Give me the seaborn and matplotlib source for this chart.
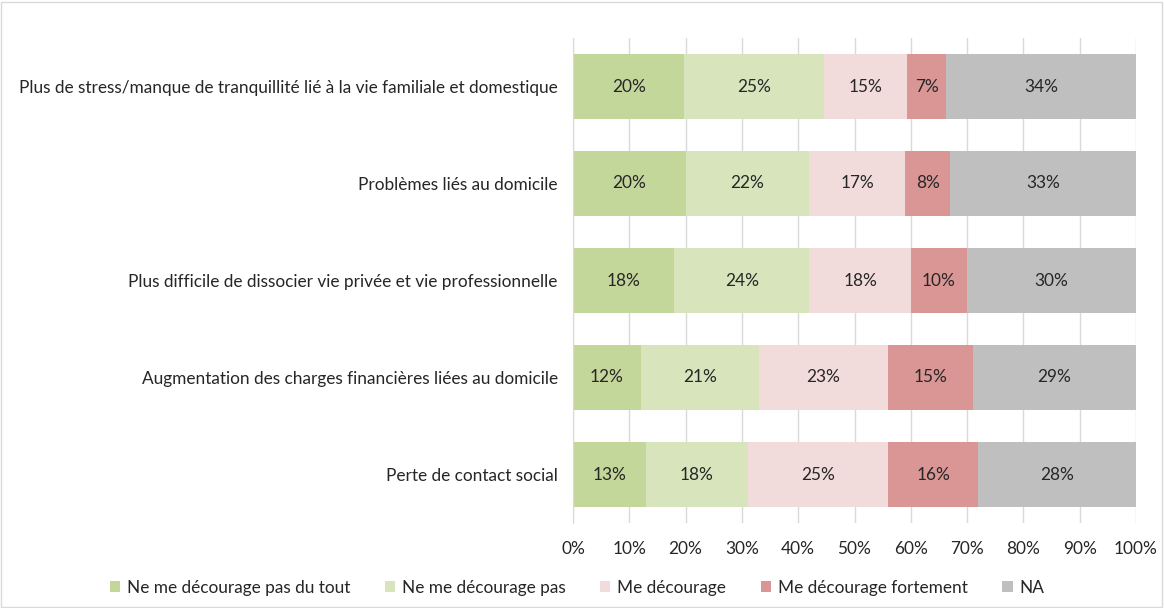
import matplotlib
matplotlib.use("Agg")
import matplotlib.pyplot as plt
import seaborn as sns
import numpy as np
import pandas as pd
from matplotlib.patches import Rectangle, Patch

categories = [
    "Plus de stress/manque de tranquillité lié à la vie familiale et domestique",
    "Problèmes liés au domicile",
    "Plus difficile de dissocier vie privée et vie professionnelle",
    "Augmentation des charges financières liées au domicile",
    "Perte de contact social",
]
series = ["Ne me décourage pas du tout", "Ne me décourage pas", "Me décourage",
          "Me décourage fortement", "NA"]
pas_du_tout = [20, 20, 18, 12, 13]
pas = [25, 22, 24, 21, 18]
decourage = [15, 17, 18, 23, 25]
fortement = [7, 8, 10, 15, 16]
na = [34, 33, 30, 29, 28]
colors = ["#C4D79B", "#D8E4BC", "#F2DCDB", "#DA9694", "#BFBFBF"]
xticks = [0, 10, 20, 30, 40, 50, 60, 70, 80, 90, 100]

sns.set_style("white")
plt.rcParams["font.family"] = ["Lato", "DejaVu Sans"]
FS = 12.4

vals = np.array([pas_du_tout, pas, decourage, fortement, na], dtype=float)
shares = vals / vals.sum(axis=0) * 100
cum = np.cumsum(shares, axis=0)

fig = plt.figure(figsize=(11.64, 6.08), dpi=100)
ax = fig.add_axes([573 / 1164, 1 - 523 / 608, (1136 - 573) / 1164, (523 - 38) / 608])

for i in range(len(series) - 1, -1, -1):
    df = pd.DataFrame({"cat": categories, "val": cum[i]})
    sns.barplot(data=df, x="val", y="cat", order=categories, color=colors[i],
                width=0.66, ax=ax, saturation=1, edgecolor="none", zorder=2)

for i in range(len(series)):
    for j in range(len(categories)):
        left = cum[i][j] - shares[i][j]
        ax.text(left + shares[i][j] / 2, j, f"{int(vals[i][j])}%", ha="center",
                va="center", fontsize=FS, color="#262626", zorder=3)

ax.set_xlim(0, 100)
ax.set_ylim(4.5, -0.5)
ax.set_xticks(xticks)
ax.set_xticklabels([f"{t}%" for t in xticks], fontsize=FS, color="#262626")
ax.tick_params(axis="x", length=6, color="#D9D9D9", pad=7, width=1)
ax.tick_params(axis="y", length=0, pad=11, labelsize=FS, labelcolor="#262626")
ax.set_xlabel("")
ax.set_ylabel("")
ax.grid(axis="x", color="#D9D9D9", linewidth=1, zorder=0)
ax.set_axisbelow(True)
for s in ["top", "right", "bottom"]:
    ax.spines[s].set_visible(False)
ax.spines["left"].set_color("#D9D9D9")

handles = [Patch(facecolor=c, edgecolor="none") for c in colors]
fig.legend(handles, series, loc="center", bbox_to_anchor=(577 / 1164, 1 - 588 / 608),
           ncol=5, frameon=False, fontsize=FS, handlelength=0.6, handleheight=0.6,
           handletextpad=0.4, columnspacing=2.0, labelcolor="#262626")

fig.patches.append(Rectangle((1 / 1164, 1 / 608), 1 - 3 / 1164, 1 - 3 / 608,
                             transform=fig.transFigure, fill=False,
                             edgecolor="#D9D9D9", linewidth=1))

fig.savefig("out.png", dpi=100)
